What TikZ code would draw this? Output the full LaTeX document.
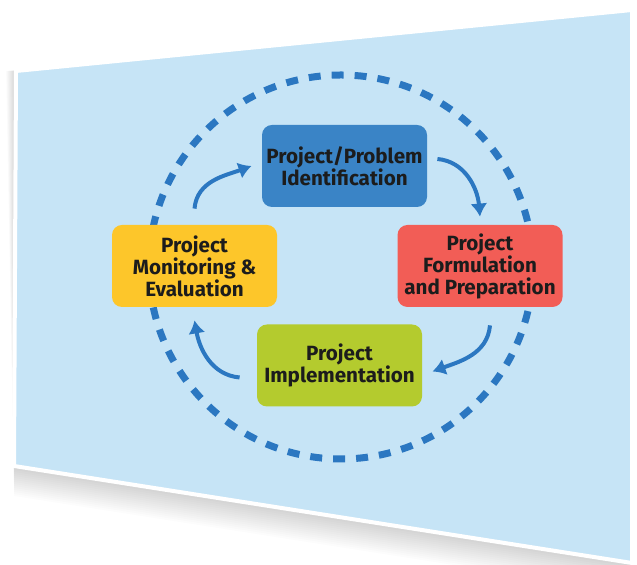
\documentclass[tikz,border=0pt]{standalone}
\usepackage{fontspec}
\setmainfont{Fira Sans}
\usetikzlibrary{positioning,arrows.meta}
\definecolor{panelblue}{HTML}{C6E4F6}
\definecolor{cycleblue}{HTML}{2B77C1}
\definecolor{identblue}{HTML}{3A84C6}
\definecolor{formred}{HTML}{F25D56}
\definecolor{implgreen}{HTML}{B4CB2E}
\definecolor{monityellow}{HTML}{FDC62A}
\definecolor{textdark}{HTML}{1C1C1C}
\tikzset{
  stage/.style={rounded corners=5pt, minimum width=82.5pt, minimum height=41pt,
    inner sep=2pt, align=center, text=textdark,
    font=\bfseries\fontsize{10.3}{11}\selectfont},
  ring/.style={draw=cycleblue, line width=3.5pt, dash pattern=on 6pt off 5.5pt},
  turn/.style={draw=cycleblue, line width=2pt, -{Latex[length=6.5pt,width=8.5pt]}},
}
\begin{document}
\begin{tikzpicture}[x=0.5pt,y=0.5pt]
        \useasboundingbox (0,0) rectangle (637,565);
        \fill[white] (0,0) rectangle (637,565);
        % soft shadow under the panel
        \foreach \s in {2,4,...,30}
          \fill[black,opacity=0.01] (14,99-\s) -- (632,2-\s) -- (632,555) -- (16-\s/3,494) -- cycle;
        \filldraw[fill=panelblue,draw=white,line width=2pt]
          (16,494) -- (632,555) -- (632,2) -- (14,99) -- cycle;
        \draw[ring] (341,298) circle[radius=192];
        \node[stage,fill=identblue]   at (344.5,399) (ident) {Project/Problem\\Identification};
        \node[stage,fill=formred]     at (480,299)   (form)  {Project\\Formulation\\and Preparation};
        \node[stage,fill=implgreen]   at (339.5,199.5) (impl) {Project\\Implementation};
        \node[stage,fill=monityellow] at (194.5,299) (monit) {Project\\Monitoring \&\\Evaluation};
        \draw[turn] ([yshift=8pt]monit.north) to[out=85,in=200] ([xshift=-5pt]ident.west);
        \draw[turn] ([xshift=5pt,yshift=3.5pt]ident.east) to[out=-5,in=95] ([yshift=4pt]form.north);
        \draw[turn] ([xshift=5pt,yshift=-9pt]form.south) to[out=-95,in=20] ([xshift=5pt,yshift=-3pt]impl.east);
        \draw[turn] ([xshift=-8.5pt,yshift=-6pt]impl.west) to[out=175,in=-80] ([yshift=-6.5pt]monit.south);
      \end{tikzpicture}
\end{document}
